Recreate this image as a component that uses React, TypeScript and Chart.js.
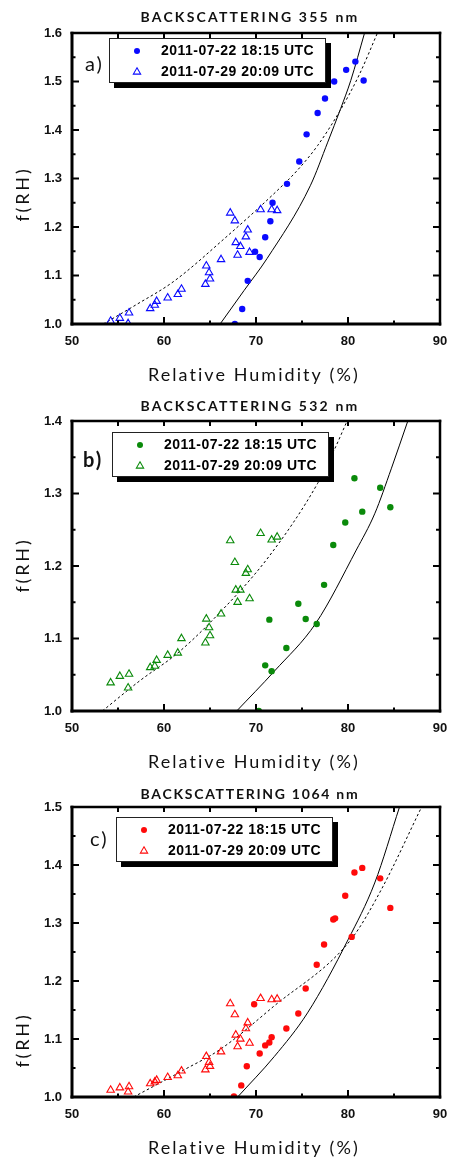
import React, { useEffect, useRef } from "react";
import { Chart, registerables } from "chart.js";

Chart.register(...registerables);

// ---------- data ----------
const LEGEND_LABELS = ["2011-07-22 18:15 UTC", "2011-07-29 20:09 UTC"];
const TITLES = ["BACKSCATTERING 355 nm", "BACKSCATTERING 532 nm", "BACKSCATTERING 1064 nm"];
const PANEL_LETTERS = ["a)", "b)", "c)"];
const X_TITLE = "Relative Humidity (%)";
const Y_TITLE = "f(RH)";
const X_TICKS = [50, 60, 70, 80, 90];
const Y_MAX = [1.6, 1.4, 1.5];
const Y_MIN = 1.0;

// 2011-07-29 (triangles): relative humidity, shared by all wavelengths
const TRI_RH = [54.2, 55.2, 56.1, 56.2, 58.5, 59.0, 59.2, 60.4, 61.5, 61.9, 64.5, 64.6, 64.9, 65.0, 66.2, 67.2, 67.7, 67.8, 68.0, 68.3, 68.9, 69.1, 69.3, 70.5, 71.7, 72.3];
const TRI_F_355 = [1.006, 1.012, 1.001, 1.023, 1.032, 1.039, 1.047, 1.054, 1.061, 1.072, 1.082, 1.120, 1.106, 1.093, 1.133, 1.229, 1.213, 1.168, 1.142, 1.160, 1.180, 1.194, 1.148, 1.236, 1.236, 1.234];
const TRI_F_532 = [1.039, 1.048, 1.032, 1.051, 1.060, 1.062, 1.070, 1.077, 1.080, 1.100, 1.094, 1.127, 1.115, 1.104, 1.134, 1.235, 1.205, 1.167, 1.150, 1.167, 1.190, 1.195, 1.155, 1.245, 1.236, 1.240];
const TRI_F_1064 = [1.012, 1.016, 1.009, 1.018, 1.023, 1.026, 1.029, 1.034, 1.037, 1.045, 1.047, 1.070, 1.060, 1.053, 1.078, 1.161, 1.142, 1.107, 1.087, 1.100, 1.118, 1.128, 1.093, 1.170, 1.168, 1.169];

// 2011-07-22 (circles)
const CIRC_RH_355 = [67.7, 68.5, 69.1, 69.9, 70.4, 71.0, 71.56, 71.8, 73.37, 74.7, 75.5, 76.7, 77.5, 78.5, 79.8, 80.8, 81.7];
const CIRC_F_355 = [1.000, 1.031, 1.089, 1.149, 1.138, 1.179, 1.212, 1.250, 1.289, 1.335, 1.391, 1.435, 1.465, 1.500, 1.524, 1.541, 1.502];
const CIRC_RH_532 = [70.3, 71.0, 71.45, 71.7, 73.3, 74.6, 75.4, 76.6, 77.4, 78.4, 79.7, 80.7, 81.55, 83.5, 84.6];
const CIRC_F_532 = [1.000, 1.063, 1.126, 1.055, 1.087, 1.148, 1.127, 1.120, 1.174, 1.229, 1.260, 1.321, 1.275, 1.308, 1.281];
const CIRC_RH_1064 = [67.6, 68.4, 69.0, 69.8, 70.4, 71.0, 71.45, 71.7, 73.3, 74.6, 75.4, 76.6, 77.4, 78.4, 78.6, 79.7, 80.4, 80.7, 81.55, 83.5, 84.6];
const CIRC_F_1064 = [1.001, 1.020, 1.053, 1.160, 1.075, 1.089, 1.094, 1.103, 1.118, 1.144, 1.187, 1.228, 1.263, 1.306, 1.308, 1.347, 1.276, 1.387, 1.395, 1.377, 1.326];

// fitted curves
const FIT_SOLID_RH_355 = [66.1, 68.7, 71.2, 75.9, 77.8, 79.2, 80.3, 81.8];
const FIT_SOLID_F_355 = [1.0, 1.069, 1.135, 1.285, 1.375, 1.444, 1.502, 1.6];
const FIT_DASH_RH_355 = [53.4, 57.0, 61.0, 66.5, 72.3, 74.5, 76.7, 79.2, 81.2, 83.2];
const FIT_DASH_F_355 = [1.0, 1.04, 1.087, 1.175, 1.275, 1.317, 1.368, 1.442, 1.513, 1.6];

const FIT_SOLID_RH_532 = [67.9, 72.0, 76.5, 80.9, 82.9, 84.7, 86.5];
const FIT_SOLID_F_532 = [1.0, 1.055, 1.121, 1.222, 1.272, 1.334, 1.4];
const FIT_DASH_RH_532 = [53.3, 57.4, 61.4, 65.4, 71.4, 76.7, 78.5, 79.9];
const FIT_DASH_F_532 = [1.0, 1.042, 1.079, 1.127, 1.213, 1.314, 1.36, 1.4];

const FIT_SOLID_RH_1064 = [68.0, 72.0, 75.6, 80.0, 82.9, 85.6];
const FIT_SOLID_F_1064 = [1.0, 1.070, 1.145, 1.271, 1.369, 1.5];
const FIT_DASH_RH_1064 = [56.7, 62.2, 66.1, 71.9, 80.3, 83.6, 88.0];
const FIT_DASH_F_1064 = [1.0, 1.047, 1.082, 1.156, 1.271, 1.357, 1.5];

const COLORS = ["#0a0aff", "#0a8a0a", "#ff0a0a"];

// ---------- helpers ----------
const zip = (xs: number[], ys: number[]) => xs.map((x, i) => ({ x, y: ys[i] }));

type PanelCfg = {
  height: number;
  padTop: number;
  title: string;
  letter: string;
  letterBold: boolean;
  color: string;
  yMax: number;
  circ: { x: number; y: number }[];
  tri: { x: number; y: number }[];
  solid: { x: number; y: number }[];
  dash: { x: number; y: number }[];
  titleDy: number;
  legendDx: number;
  legendDy: number;
  letterDx: number;
  letterDy: number;
  xTitleDy: number;
  yTitleDy: number;
};

const PANELS: PanelCfg[] = [
  {
    height: 388, padTop: 33, title: TITLES[0], letter: PANEL_LETTERS[0], letterBold: false, color: COLORS[0], yMax: Y_MAX[0],
    circ: zip(CIRC_RH_355, CIRC_F_355), tri: zip(TRI_RH, TRI_F_355),
    solid: zip(FIT_SOLID_RH_355, FIT_SOLID_F_355), dash: zip(FIT_DASH_RH_355, FIT_DASH_F_355),
    titleDy: -15.5, legendDx: 37, legendDy: 5, letterDx: 13, letterDy: 32, xTitleDy: 51, yTitleDy: 194 - 33,
  },
  {
    height: 388, padTop: 33, title: TITLES[1], letter: PANEL_LETTERS[1], letterBold: true, color: COLORS[1], yMax: Y_MAX[1],
    circ: zip(CIRC_RH_532, CIRC_F_532), tri: zip(TRI_RH, TRI_F_532),
    solid: zip(FIT_SOLID_RH_532, FIT_SOLID_F_532), dash: zip(FIT_DASH_RH_532, FIT_DASH_F_532),
    titleDy: -15, legendDx: 40, legendDy: 11, letterDx: 11, letterDy: 40, xTitleDy: 51, yTitleDy: 565 - 421,
  },
  {
    height: 384, padTop: 31, title: TITLES[2], letter: PANEL_LETTERS[2], letterBold: false, color: COLORS[2], yMax: Y_MAX[2],
    circ: zip(CIRC_RH_1064, CIRC_F_1064), tri: zip(TRI_RH, TRI_F_1064),
    solid: zip(FIT_SOLID_RH_1064, FIT_SOLID_F_1064), dash: zip(FIT_DASH_RH_1064, FIT_DASH_F_1064),
    titleDy: -12.7, legendDx: 44, legendDy: 10, letterDx: 18, letterDy: 32.5, xTitleDy: 51, yTitleDy: 1040 - 807,
  },
];

const PLOT_BOTTOM = [324, 323, 321];

function spacedText(ctx: any, text: string, x: number, y: number, font: string, width: number) {
  ctx.font = font;
  ctx.letterSpacing = "0px";
  const w = ctx.measureText(text).width;
  const sp = (width - w) / text.length;
  ctx.letterSpacing = sp.toFixed(2) + "px";
  ctx.textBaseline = "middle";
  ctx.textAlign = "left";
  ctx.fillText(text, x - width / 2, y);
  ctx.letterSpacing = "0px";
}

function drawMarker(ctx: any, style: string, x: number, y: number, r: number, color: string) {
  ctx.save();
  ctx.beginPath();
  if (style === "circle") {
    ctx.arc(x, y, r, 0, Math.PI * 2);
    ctx.fillStyle = color;
    ctx.fill();
  } else {
    const h = r * 1.5;
    ctx.moveTo(x, y - r);
    ctx.lineTo(x + r * 0.866, y - r + h);
    ctx.lineTo(x - r * 0.866, y - r + h);
    ctx.closePath();
    ctx.strokeStyle = color;
    ctx.lineWidth = 1.1;
    ctx.stroke();
  }
  ctx.restore();
}

const decoPlugin = {
  id: "deco",
  afterDraw(chart: any, _args: any, o: any) {
    const { ctx, chartArea: ca, scales } = chart;
    const xs = scales.x;
    const ys = scales.y;
    ctx.save();
    ctx.strokeStyle = "#000";
    ctx.fillStyle = "#000";
    ctx.lineCap = "butt";
    const seg = (x1: number, y1: number, x2: number, y2: number, w: number) => {
      ctx.lineWidth = w;
      ctx.beginPath();
      ctx.moveTo(x1, y1);
      ctx.lineTo(x2, y2);
      ctx.stroke();
    };
    // x ticks (major every 10, minor every 5)
    const x0 = X_TICKS[0];
    const x1 = X_TICKS[X_TICKS.length - 1];
    for (let k = 0; x0 + k * 5 <= x1 + 1e-9; k++) {
      const v = x0 + k * 5;
      const px = xs.getPixelForValue(v);
      const major = k % 2 === 0;
      seg(px, ca.bottom, px, ca.bottom - (major ? 7 : 3.5), 2);
      seg(px, ca.top, px, ca.top + 5, 2);
    }
    // y ticks (major every 0.1, minor every 0.05)
    const ymax = ys.max;
    for (let k = 0; Y_MIN + k * 0.05 <= ymax + 1e-9; k++) {
      const v = Y_MIN + k * 0.05;
      const py = ys.getPixelForValue(v);
      const major = k % 2 === 0;
      seg(ca.left, py, ca.left + (major ? 7 : 3.5), py, 2);
      seg(ca.right, py, ca.right - (major ? 7 : 4), py, 2);
    }
    // frame
    seg(ca.left - 1.5, ca.bottom, ca.right + 1.25, ca.bottom, 3);
    seg(ca.left, ca.top - 1.25, ca.left, ca.bottom + 1.5, 3);
    seg(ca.left - 1.5, ca.top, ca.right + 1.25, ca.top, 2.5);
    seg(ca.right, ca.top - 1.25, ca.right, ca.bottom + 1.5, 2.5);

    // title
    ctx.fillStyle = "#111";
    const cx = (ca.left + ca.right) / 2 - 6;
    spacedText(ctx, o.title, cx, ca.top + o.titleDy, "bold 14px Lato", 219);
    // x title
    spacedText(ctx, X_TITLE, cx + 4, ca.bottom + o.xTitleDy, "18px Lato", 212);
    // y title
    ctx.save();
    ctx.translate(23, ca.top + o.yTitleDy);
    ctx.rotate(-Math.PI / 2);
    spacedText(ctx, Y_TITLE, 0, 0, "18px Lato", 55);
    ctx.restore();
    // panel letter
    ctx.font = (o.letterBold ? "bold " : "") + "20px Lato";
    ctx.textAlign = "left";
    ctx.textBaseline = "middle";
    ctx.letterSpacing = "2px";
    ctx.fillText(o.letter, ca.left + o.letterDx, ca.top + o.letterDy);
    ctx.letterSpacing = "0px";

    // legend box with shadow
    const bx = ca.left + o.legendDx;
    const by = ca.top + o.legendDy;
    const bw = 217;
    const bh = 45;
    ctx.fillStyle = "#000";
    ctx.fillRect(bx + 5, by + 5, bw, bh);
    ctx.fillStyle = "#fff";
    ctx.fillRect(bx, by, bw, bh);
    ctx.strokeStyle = "#222";
    ctx.lineWidth = 1;
    ctx.strokeRect(bx + 0.5, by + 0.5, bw - 1, bh - 1);
    const ds = chart.data.datasets;
    const rows = [by + 13, by + 34];
    for (let i = 0; i < 2; i++) {
      const d = ds[i];
      drawMarker(ctx, d.pointStyle, bx + 28, rows[i], i === 0 ? 3 : 4.2, o.color);
      ctx.fillStyle = "#000";
      ctx.font = "bold 14px 'Liberation Sans', Arial";
      ctx.textAlign = "left";
      ctx.textBaseline = "middle";
      ctx.letterSpacing = "0.5px";
      ctx.fillText(d.label, bx + 52, rows[i] + 0.5);
      ctx.letterSpacing = "0px";
    }
    ctx.restore();
  },
};

function Panel({ cfg, bottom }: { cfg: PanelCfg; bottom: number }) {
  const ref = useRef<HTMLCanvasElement | null>(null);
  useEffect(() => {
    const canvas = ref.current;
    if (!canvas) return;
    const tickFont = { family: "'Liberation Sans', Arial", weight: "bold" as const, size: 13 };
    const chart = new Chart(canvas, {
      type: "scatter",
      data: {
        datasets: [
          {
            label: LEGEND_LABELS[0],
            data: cfg.circ,
            pointStyle: "circle",
            pointRadius: 3.2,
            backgroundColor: cfg.color,
            borderColor: cfg.color,
            borderWidth: 0,
          },
          {
            label: LEGEND_LABELS[1],
            data: cfg.tri,
            pointStyle: "triangle",
            pointRadius: 4.3,
            backgroundColor: "rgba(0,0,0,0)",
            borderColor: cfg.color,
            borderWidth: 1.1,
          },
          {
            label: "fit 2011-07-22",
            data: cfg.solid,
            showLine: true,
            pointRadius: 0,
            borderColor: "#000",
            borderWidth: 1,
            cubicInterpolationMode: "monotone",
          } as any,
          {
            label: "fit 2011-07-29",
            data: cfg.dash,
            showLine: true,
            pointRadius: 0,
            borderColor: "#000",
            borderWidth: 1,
            borderDash: [2.5, 2.5],
            cubicInterpolationMode: "monotone",
          } as any,
        ],
      },
      options: {
        animation: false,
        responsive: false,
        devicePixelRatio: 1,
        layout: { padding: { top: cfg.padTop, right: 9, left: 0, bottom: 0 } },
        plugins: {
          legend: { display: false },
          tooltip: { enabled: false },
          title: { display: false },
          deco: cfg,
        } as any,
        scales: {
          x: {
            type: "linear",
            min: X_TICKS[0],
            max: X_TICKS[X_TICKS.length - 1],
            grid: { display: false, drawTicks: false },
            border: { display: false },
            ticks: {
              stepSize: 10,
              autoSkip: false,
              maxRotation: 0,
              padding: 10,
              color: "#111",
              font: tickFont,
            },
            afterFit: (s: any) => {
              s.height = cfg.height - bottom;
              s.paddingLeft = 0;
              s.paddingRight = 0;
            },
          },
          y: {
            type: "linear",
            min: Y_MIN,
            max: cfg.yMax,
            grid: { display: false, drawTicks: false },
            border: { display: false },
            ticks: {
              stepSize: 0.1,
              padding: 10,
              color: "#111",
              font: tickFont,
              callback: (v: any) => Number(v).toFixed(1),
            },
            afterFit: (s: any) => {
              s.width = 72;
              s.paddingTop = 0;
              s.paddingBottom = 0;
            },
          },
        },
      },
      plugins: [decoPlugin as any],
    });
    return () => chart.destroy();
  }, [cfg, bottom]);
  return (
    <canvas
      ref={ref}
      width={449}
      height={cfg.height}
      style={{ display: "block", width: 449, height: cfg.height }}
    />
  );
}

export default function App() {
  return (
    <div style={{ position: "absolute", left: 0, top: 0, width: 449, height: 1160, background: "#fff" }}>
      {PANELS.map((p, i) => (
        <Panel key={i} cfg={p} bottom={PLOT_BOTTOM[i]} />
      ))}
    </div>
  );
}
